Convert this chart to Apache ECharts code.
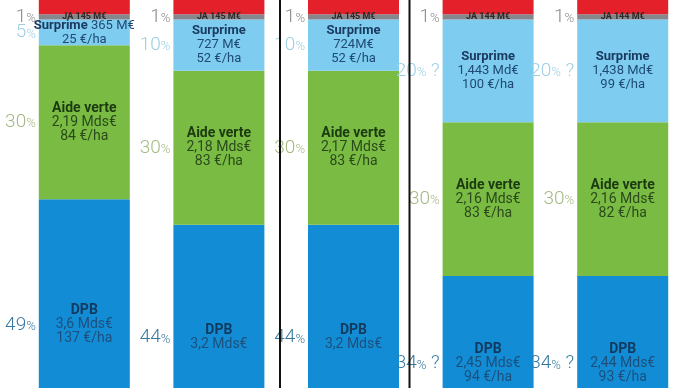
<!DOCTYPE html>
<html>
<head>
<meta charset="utf-8">
<script src="https://cdn.jsdelivr.net/npm/echarts@6/dist/echarts.min.js"></script>
<style>html,body{margin:0;padding:0;background:#fff}#c{width:690px;height:388px}</style>
</head>
<body>
<div id="c"></div>
<script>
// ---- data (shares of the budget, %) ----
var categories = ['Scénario 1', 'Scénario 2', 'Scénario 3', 'Scénario 4', 'Scénario 5'];
var dpb       = [49, 44, 44, 34, 34];
var aideVerte = [30, 30, 30, 30, 30];
var surprime  = [5, 10, 10, 20, 20];
var ja        = [1, 1, 1, 1, 1];
var autres    = [15, 15, 15, 15, 15];

// ---- texts ----
var dpbPct       = ['49%', '44%', '44%', '34% ?', '34% ?'];
var vertePct     = ['30%', '30%', '30%', '30%', '30%'];
var surprimePct  = ['5%', '10%', '10%', '20% ?', '20% ?'];
var jaPct        = ['1%', '1%', '1%', '1%', '1%'];

var dpbMontant      = ['3,6 Mds€', '3,2 Mds€', '3,2 Mds€', '2,45 Mds€', '2,44 Mds€'];
var dpbHa           = ['137 €/ha', '', '', '94 €/ha', '93 €/ha'];
var verteMontant    = ['2,19 Mds€', '2,18 Mds€', '2,17 Mds€', '2,16 Mds€', '2,16 Mds€'];
var verteHa         = ['84 €/ha', '83 €/ha', '83 €/ha', '83 €/ha', '82 €/ha'];
var surprimeMontant = ['365 M€', '727 M€', '724M€', '1,443 Md€', '1,438 Md€'];
var surprimeHa      = ['25 €/ha', '52 €/ha', '52 €/ha', '100 €/ha', '99 €/ha'];
var jaMontant       = ['145 M€', '145 M€', '145 M€', '144 M€', '144 M€'];

var FONT = 'Roboto, "DejaVu Sans", sans-serif';
var BW = 91;

function pctFormatter(arr) {
  return function (p) {
    var s = arr[p.dataIndex];
    var m = s.match(/^(\d+)%(.*)$/);
    return '{n|' + m[1] + '}{p|%}' + (m[2] ? '{n|' + m[2] + '}' : '');
  };
}
function pctRich(color) {
  return {
    n: { fontFamily: FONT, fontWeight: 300, fontSize: 19, color: color, padding: [0, 0, 0, 0] },
    p: { fontFamily: FONT, fontWeight: 300, fontSize: 13, color: color, verticalAlign: 'bottom', padding: [0, 0, 1, 0] }
  };
}
function innerRich(boldColor, valColor, size) {
  return {
    b: { fontFamily: FONT, fontWeight: 'bold', fontSize: size, color: boldColor, lineHeight: 14 },
    v: { fontFamily: FONT, fontSize: size, color: valColor, lineHeight: 14 }
  };
}
function barSeries(name, data, color, label) {
  return {
    name: name, type: 'bar', stack: 'total', data: data, barWidth: BW, barGap: '-100%',
    clip: false, itemStyle: { color: color }, label: label, silent: true
  };
}
function pctSeries(data, arr, color) {
  return {
    type: 'bar', stack: 'pct', data: data, barWidth: BW, barGap: '-100%', clip: false,
    itemStyle: { color: 'rgba(0,0,0,0)' }, silent: true, z: 3,
    label: { show: true, position: 'left', distance: 3, formatter: pctFormatter(arr), rich: pctRich(color) }
  };
}

var option = {
  animation: false,
  backgroundColor: '#ffffff',
  grid: { left: 17, right: -21, top: 0, bottom: 0, containLabel: false },
  xAxis: { type: 'category', data: categories, show: false },
  yAxis: { type: 'value', min: 12.2, max: 87.8, show: false, splitLine: { show: false } },
  series: [
    barSeries('DPB', dpb, '#128dd5', {
      show: true, position: 'inside',
      formatter: function (p) {
        var i = p.dataIndex;
        var s = '{b|DPB}\n{v|' + dpbMontant[i] + '}';
        if (dpbHa[i]) s += '\n{v|' + dpbHa[i] + '}';
        return s;
      },
      rich: innerRich('#123a5e', '#1d4f7c', 14)
    }),
    barSeries('Aide verte', aideVerte, '#79bb43', {
      show: true, position: 'inside',
      formatter: function (p) {
        var i = p.dataIndex;
        return '{b|Aide verte}\n{v|' + verteMontant[i] + '}\n{v|' + verteHa[i] + '}';
      },
      rich: innerRich('#1c3a10', '#2b4a1b', 14)
    }),
    barSeries('Surprime', surprime, '#7ecdf0', {
      show: true, position: 'inside',
      formatter: function (p) {
        var i = p.dataIndex;
        if (p.value < 8) return '{b|Surprime} {v|' + surprimeMontant[i] + '}\n{v|' + surprimeHa[i] + '}';
        return '{b|Surprime}\n{v|' + surprimeMontant[i] + '}\n{v|' + surprimeHa[i] + '}';
      },
      rich: innerRich('#1b3a60', '#1f4a74', 13)
    }),
    barSeries('JA', ja, '#86868d', {
      show: true, position: 'inside',
      formatter: function (p) { return 'JA ' + jaMontant[p.dataIndex]; },
      fontFamily: FONT, fontWeight: 'bold', fontSize: 9, color: '#2a2a2a'
    }),
    barSeries('Autres', autres, '#e4212b', { show: false }),
    pctSeries(dpb, dpbPct, '#37799f'),
    pctSeries(aideVerte, vertePct, '#a3b981'),
    pctSeries(surprime, surprimePct, '#9dcfe3'),
    pctSeries(ja, jaPct, '#8a8a8a'),
    { type: 'bar', stack: 'pct', data: autres, barWidth: BW, barGap: '-100%', clip: false,
      itemStyle: { color: 'rgba(0,0,0,0)' }, silent: true }
  ],
  graphic: [
    { type: 'line', shape: { x1: 280, y1: 0, x2: 280, y2: 388 }, style: { stroke: '#111', lineWidth: 2 }, z: 100 },
    { type: 'line', shape: { x1: 409.5, y1: 0, x2: 409.5, y2: 388 }, style: { stroke: '#111', lineWidth: 2 }, z: 100 }
  ]
};

var chart = echarts.init(document.getElementById('c'), null, { renderer: 'canvas' });
chart.setOption(option);
</script>
</body>
</html>
